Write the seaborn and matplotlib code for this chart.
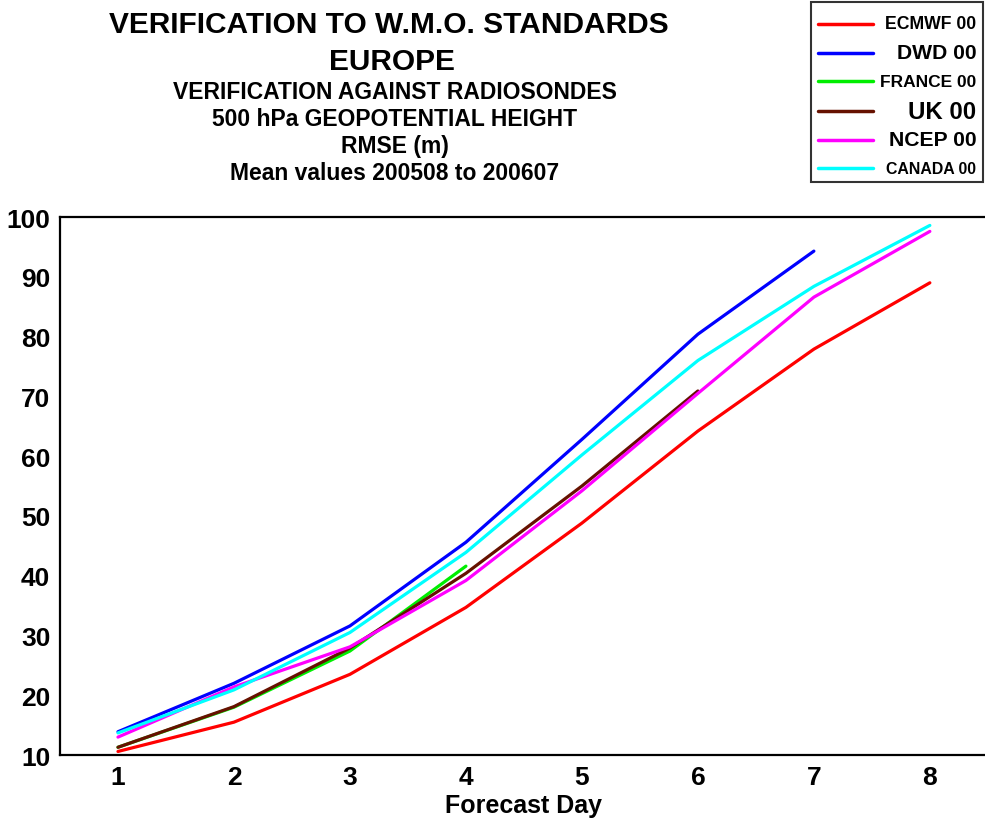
import pandas as pd
import numpy as np
import matplotlib.pyplot as plt
import seaborn as sns

# RMSE of 500 hPa height against radiosondes, Europe, by forecast day
models = ["ECMWF 00", "DWD 00", "FRANCE 00", "UK 00", "NCEP 00", "CANADA 00"]
colors = ["#ff0000", "#0000ff", "#00ee00", "#661100", "#ff00ff", "#00ffff"]

ecmwf = [10.6, 15.5, 23.5, 34.7, 48.8, 64.2, 77.9, 89.0]
dwd = [13.9, 22.0, 31.6, 45.6, 62.8, 80.4, 94.3]
france = [11.3, 18.0, 27.4, 41.6]
uk = [11.3, 18.1, 27.9, 40.4, 55.0, 70.9]
ncep = [13.0, 21.4, 28.1, 39.2, 54.2, 70.5, 86.6, 97.6]
canada = [13.7, 20.9, 30.5, 43.9, 60.2, 76.0, 88.4, 98.6]

series = [ecmwf, dwd, france, uk, ncep, canada]
frames = []
for name, vals in zip(models, series):
    frames.append(pd.DataFrame({"day": np.arange(1, len(vals) + 1),
                                "rmse": vals, "model": name}))
df = pd.concat(frames, ignore_index=True)

# legend label sizes differ in the original
label_sizes = [12.7, 15.2, 12.5, 17.3, 15.2, 11.4]

sns.set_style("white")
plt.rcParams["font.family"] = ["Liberation Sans", "DejaVu Sans"]
plt.rcParams["font.weight"] = "bold"
plt.rcParams["text.color"] = "black"
plt.rcParams["axes.labelcolor"] = "black"

fig = plt.figure(figsize=(9.85, 8.2), dpi=100)
ax = fig.add_axes([0.0609, 0.078, 0.942, 0.6561])

sns.lineplot(data=df, x="day", y="rmse", hue="model", hue_order=models,
             palette=colors, linewidth=2.3, legend=False, ax=ax)

ax.set_xlim(0.5, 8.5)
ax.set_ylim(10, 100)
ax.set_xticks(range(1, 9))
ax.set_yticks(range(10, 101, 10))
ax.tick_params(axis="both", direction="out", length=5, width=1.5,
               labelsize=19, pad=2, colors="black")
for lab in ax.get_xticklabels() + ax.get_yticklabels():
    lab.set_fontweight("bold")
ax.set_xlabel("Forecast Day", fontsize=18, fontweight="bold", labelpad=3)
ax.set_ylabel("")
for s in ["left", "bottom", "top"]:
    ax.spines[s].set_visible(True)
    ax.spines[s].set_linewidth(1.6)
    ax.spines[s].set_color("black")
ax.spines["right"].set_visible(False)

# titles
fig.text(388.5 / 985, 1 - 33 / 820, "VERIFICATION TO W.M.O. STANDARDS", ha="center",
         va="baseline", fontsize=21.5, fontweight="bold")
fig.text(392 / 985, 1 - 70 / 820, "EUROPE", ha="center", va="baseline",
         fontsize=21.5, fontweight="bold")
subs = ["VERIFICATION AGAINST RADIOSONDES", "500 hPa GEOPOTENTIAL HEIGHT",
        "RMSE (m)", "Mean values 200508 to 200607"]
for txt, yb in zip(subs, [99, 126, 153, 180]):
    fig.text(395 / 985, 1 - yb / 820, txt, ha="center", va="baseline",
             fontsize=16.5, fontweight="bold")

# legend box top right
leg = fig.legend(handles=ax.lines[:len(models)], labels=models, loc="upper right",
                 bbox_to_anchor=(983 / 985, 1 - 3 / 820), borderaxespad=0,
                 fontsize=12, frameon=True, fancybox=False, borderpad=0.4,
                 handlelength=3.35, handleheight=1.68, handletextpad=0.4,
                 labelspacing=0.38)
leg.get_frame().set_edgecolor("black")
leg.get_frame().set_linewidth(1.5)
for line in leg.get_lines():
    line.set_linewidth(2.5)
    line.set_ydata(np.asarray(line.get_ydata()) - 5.0)
for t, fs in zip(leg.get_texts(), label_sizes):
    t.set_fontsize(fs)
    t.set_fontweight("bold")

# right-align the legend labels and centre them on their key lines
fig.canvas.draw()
r = fig.canvas.get_renderer()
boxes = [t.get_window_extent(r) for t in leg.get_texts()]
keys = [ln.get_window_extent(r) for ln in leg.get_lines()]
mw = max(b.width for b in boxes)
for t, b, k in zip(leg.get_texts(), boxes, keys):
    dy = (k.y0 + k.y1) / 2 - (b.y0 + b.y1) / 2
    t.set_position((mw - b.width, dy))

fig.savefig("out.png", dpi=100)
